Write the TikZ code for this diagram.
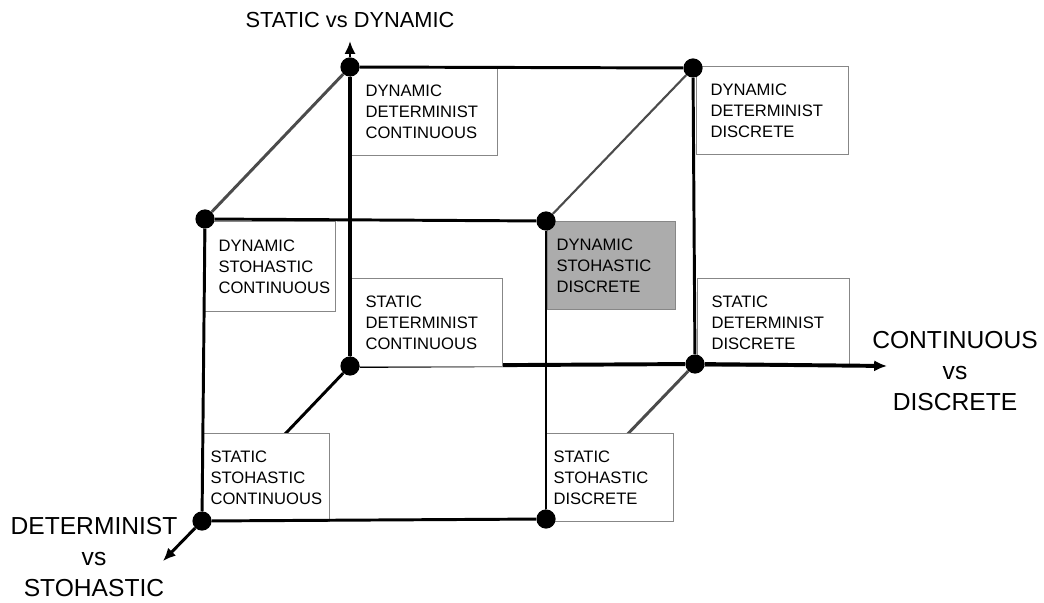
\documentclass[tikz,border=0pt]{standalone}
\usepackage{fontspec}
\setmainfont{Liberation Sans}
\usetikzlibrary{arrows.meta}
\definecolor{edgegray}{RGB}{75,75,75}
\definecolor{boxgray}{RGB}{135,135,135}
\definecolor{cellfill}{RGB}{172,172,172}
\pgfdeclarelayer{background}
\pgfsetlayers{background,main}
\tikzset{
  corner/.style={circle, fill=black, inner sep=0pt, minimum size=0.48cm},
  cell/.style={draw=boxgray, fill=white, line width=0.8pt, anchor=north west,
    align=left, inner ysep=0pt, minimum height=2.2cm,
    font=\fontsize{11.8}{14.8}\selectfont},
  axislabel/.style={align=center, font=\fontsize{17.5}{22}\selectfont},
  edge/.style={line width=2.1pt},
}
\begin{document}
\begin{tikzpicture}[x=0.025cm, y=-0.025cm, >={Latex[length=3.2mm,width=2.8mm]}]
  \useasboundingbox (0,0) rectangle (1044,603);

  % corners of the cube
  \node[corner] (btl) at (350,67) {};
  \node[corner] (btr) at (693,68) {};
  \node[corner] (bbl) at (350,366) {};
  \node[corner] (bbr) at (695,364) {};
  \node[corner] (ftl) at (205,219) {};
  \node[corner] (ftr) at (546,221) {};
  \node[corner] (fbl) at (202,521) {};
  \node[corner] (fbr) at (546,519) {};

  % ends of the axes
  \coordinate (zend) at (350,41);
  \coordinate (xend) at (887,366);
  \coordinate (yend) at (163,561);

  \begin{pgfonlayer}{background}
    % edges hidden by the boxes
    \draw[edge] (bbl) -- (fbl);
    \draw[edge, edgegray] (bbr) -- (fbr);
    \draw[edge, line width=2.8pt] (bbl) -- (bbr);

    % the eight cells
    \node[cell, text width=2.925cm, inner xsep=0.375cm] (ddc) at (350,67)
      {DYNAMIC\\DETERMINIST\\CONTINUOUS};
    \node[cell, text width=3.1cm, inner xsep=0.35cm] (ddd) at (696,66)
      {DYNAMIC\\DETERMINIST\\DISCRETE};
    \node[cell, text width=2.55cm, inner xsep=0.375cm, minimum height=2.25cm] (dsc) at (203,221)
      {DYNAMIC\\STOHASTIC\\CONTINUOUS};
    \node[cell, fill=cellfill, text width=2.75cm, inner xsep=0.225cm] (dsd) at (547,221)
      {DYNAMIC\\STOHASTIC\\DISCRETE};
    \node[cell, text width=3.05cm, inner xsep=0.375cm] (sdc) at (350,278)
      {STATIC\\DETERMINIST\\CONTINUOUS};
    \node[cell, text width=3.1cm, inner xsep=0.35cm] (sdd) at (697,278)
      {STATIC\\DETERMINIST\\DISCRETE};
    \node[cell, text width=2.775cm, inner xsep=0.2cm] (ssc) at (202,433)
      {STATIC\\STOHASTIC\\CONTINUOUS};
    \node[cell, text width=2.8cm, inner xsep=0.2cm] (ssd) at (545,433)
      {STATIC\\STOHASTIC\\DISCRETE};
  \end{pgfonlayer}

  % visible edges
  \draw[edge] (btl) -- (btr);
  \draw[edge] (ftl) -- (ftr);
  \draw[edge] (fbl) -- (fbr);
  \draw[edge, edgegray] (btl) -- (ftl);
  \draw[edge, edgegray, line width=1.5pt] (btr) -- (ftr);
  \draw[edge, line width=2.8pt] (bbl) -- (btl);
  \draw[edge] (btr) -- (bbr);
  \draw[edge] (ftl) -- (fbl);
  \draw[edge] (ftr) -- (fbr);

  % axes
  \draw[edge, ->] (btl) -- (zend);
  \draw[edge, line width=2.8pt, ->] (bbr) -- (xend);
  \draw[edge, ->] (fbl) -- (yend);

  \node[axislabel, font=\fontsize{15.5}{20}\selectfont] (zlabel) at (350,20) {STATIC vs DYNAMIC};
  \node[axislabel] (xlabel) at (955,371) {CONTINUOUS\\vs\\DISCRETE};
  \node[axislabel] (ylabel) at (94,557) {DETERMINIST\\vs\\STOHASTIC};
\end{tikzpicture}
\end{document}
